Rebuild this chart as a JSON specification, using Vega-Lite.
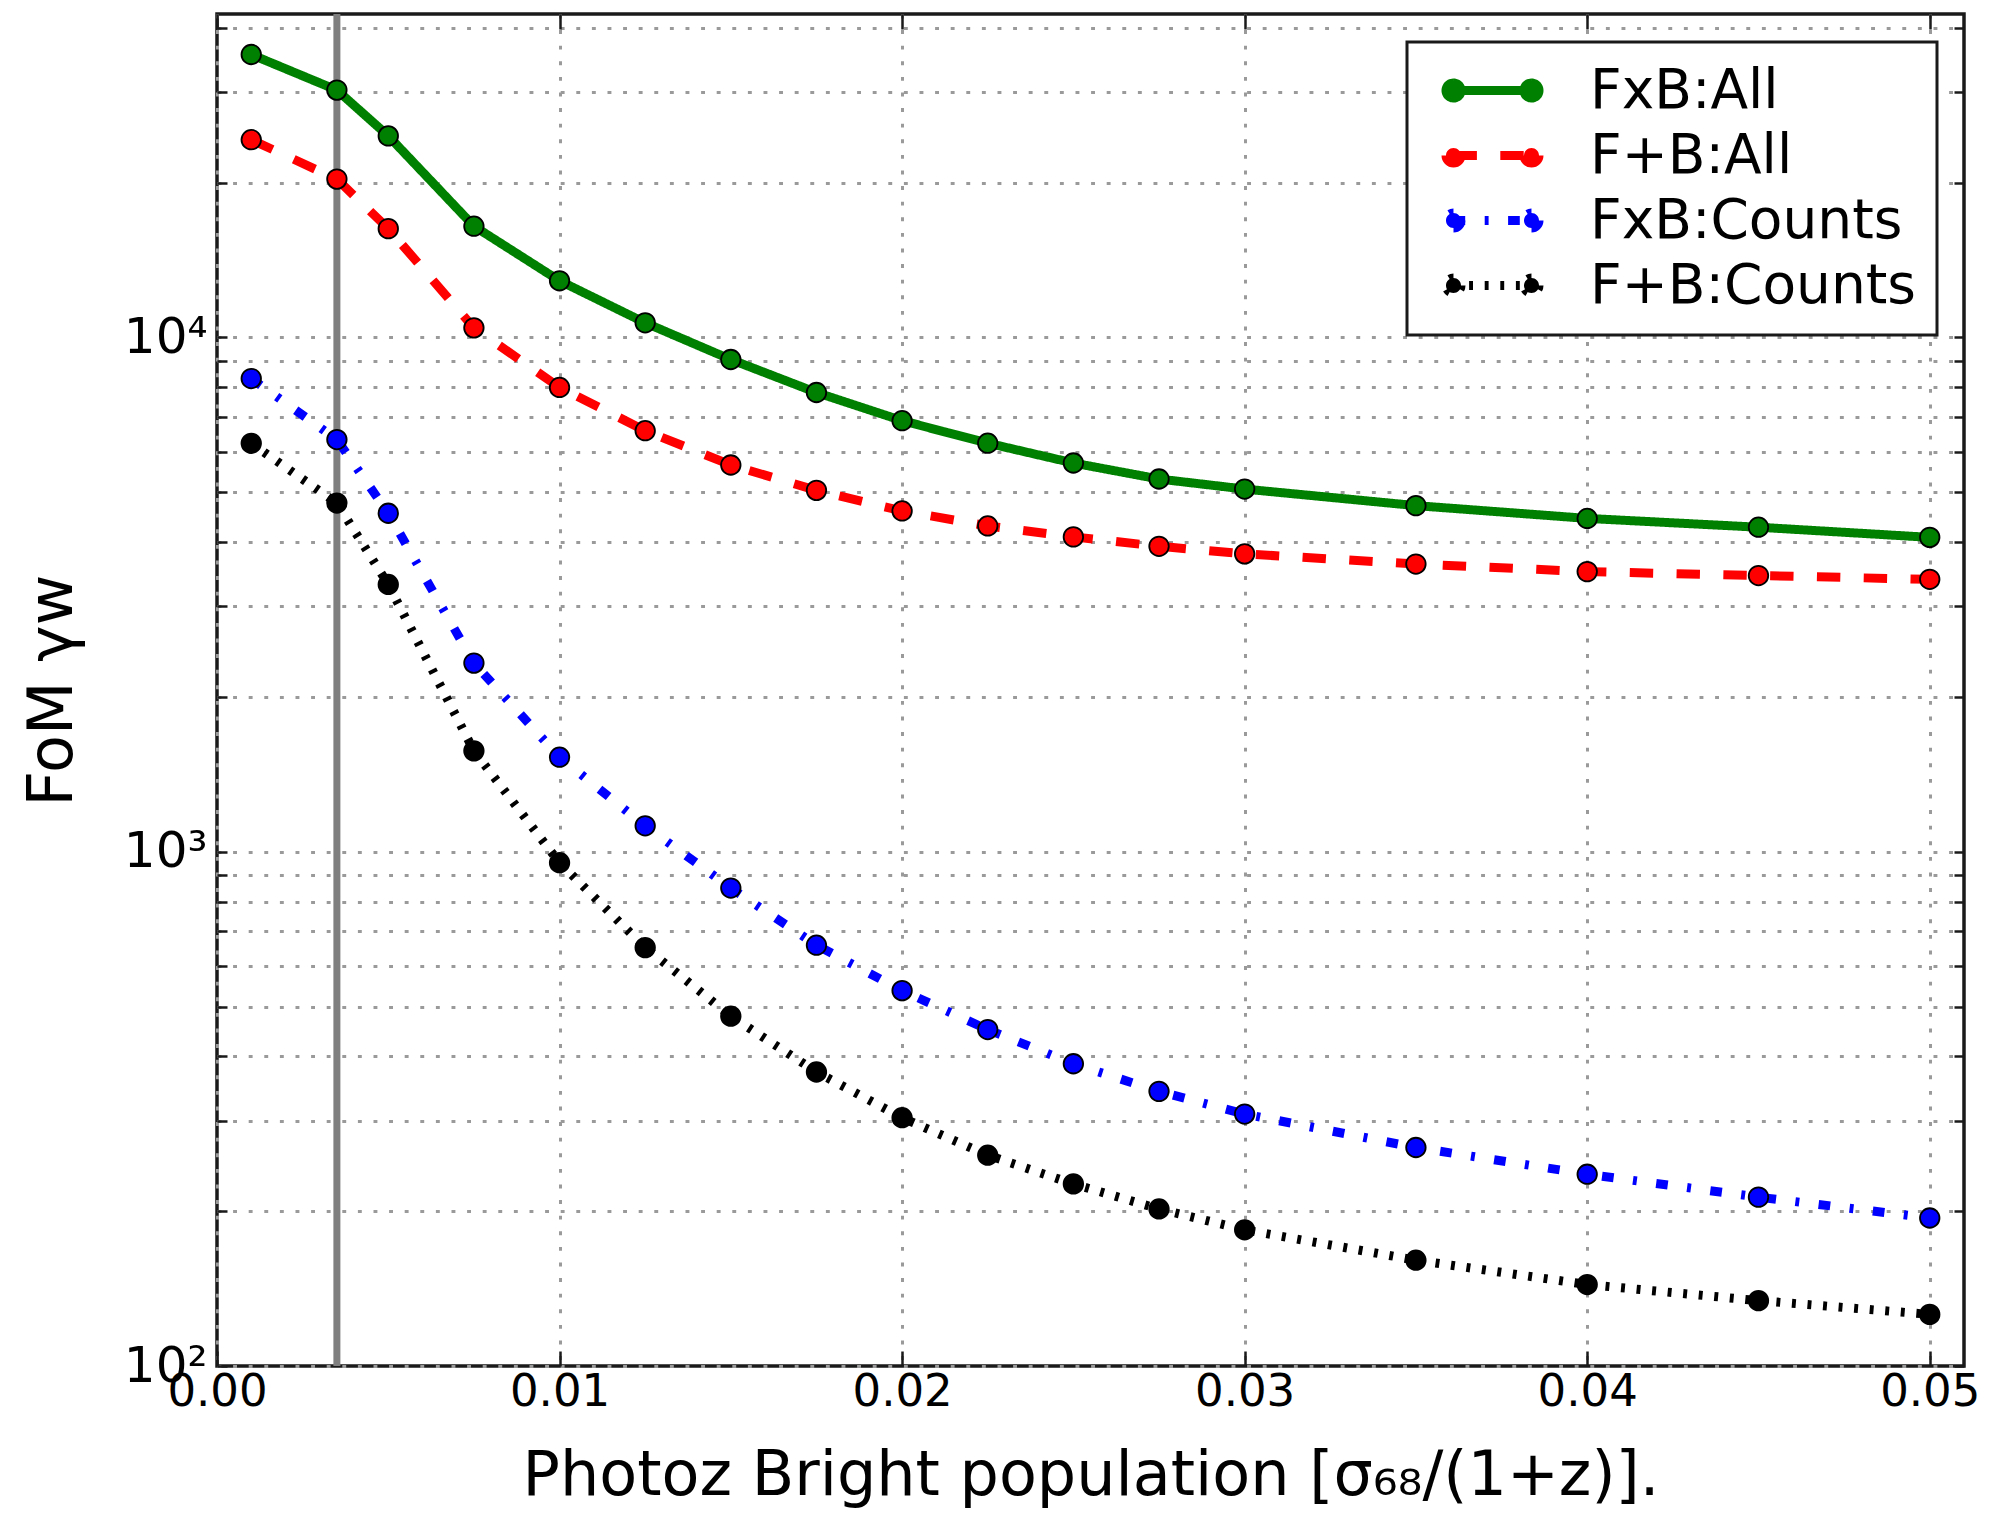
{
  "$schema": "https://vega.github.io/schema/vega-lite/v6.json",
  "autosize": {"type": "none"},
  "padding": {"left": 217, "top": 14, "right": 31, "bottom": 151},
  "width": 1747,
  "height": 1352,
  "background": "white",
  "config": {
    "font": "DejaVu Sans",
    "view": {"stroke": "#1a1a1a", "strokeWidth": 3.5},
    "legend": {
      "orient": "none",
      "legendX": 1190,
      "legendY": 28,
      "symbolType": "M-3.9,0L3.9,0M-3.15,0A0.75,0.75,0,1,1,-4.65,0A0.75,0.75,0,1,1,-3.15,0ZM4.65,0A0.75,0.75,0,1,1,3.15,0A0.75,0.75,0,1,1,4.65,0Z",
      "symbolSize": 400,
      "symbolStrokeWidth": 9,
      "symbolOffset": 37,
      "labelFontSize": 55,
      "labelFont": "DejaVu Sans",
      "labelColor": "#000",
      "labelOffset": 70,
      "labelLimit": 600,
      "rowPadding": 9,
      "padding": 21,
      "strokeColor": "#1a1a1a",
      "strokeWidth": 3,
      "fillColor": "white"
    }
  },
  "resolve": {"axis": {"x": "independent", "y": "independent"}},
  "datasets": {
    "fom": [
      {"series": "FxB:All", "x": 0.001, "y": 35500},
      {"series": "FxB:All", "x": 0.0035, "y": 30270},
      {"series": "FxB:All", "x": 0.005, "y": 24660},
      {"series": "FxB:All", "x": 0.0075, "y": 16460},
      {"series": "FxB:All", "x": 0.01, "y": 12890},
      {"series": "FxB:All", "x": 0.0125, "y": 10680},
      {"series": "FxB:All", "x": 0.015, "y": 9060},
      {"series": "FxB:All", "x": 0.0175, "y": 7816},
      {"series": "FxB:All", "x": 0.02, "y": 6890},
      {"series": "FxB:All", "x": 0.0225, "y": 6230},
      {"series": "FxB:All", "x": 0.025, "y": 5700},
      {"series": "FxB:All", "x": 0.0275, "y": 5306},
      {"series": "FxB:All", "x": 0.03, "y": 5072},
      {"series": "FxB:All", "x": 0.035, "y": 4710},
      {"series": "FxB:All", "x": 0.04, "y": 4448},
      {"series": "FxB:All", "x": 0.045, "y": 4276},
      {"series": "FxB:All", "x": 0.05, "y": 4086},
      {"series": "F+B:All", "x": 0.001, "y": 24240},
      {"series": "F+B:All", "x": 0.0035, "y": 20320},
      {"series": "F+B:All", "x": 0.005, "y": 16280},
      {"series": "F+B:All", "x": 0.0075, "y": 10440},
      {"series": "F+B:All", "x": 0.01, "y": 7995},
      {"series": "F+B:All", "x": 0.0125, "y": 6588},
      {"series": "F+B:All", "x": 0.015, "y": 5650},
      {"series": "F+B:All", "x": 0.0175, "y": 5043},
      {"series": "F+B:All", "x": 0.02, "y": 4600},
      {"series": "F+B:All", "x": 0.0225, "y": 4300},
      {"series": "F+B:All", "x": 0.025, "y": 4095},
      {"series": "F+B:All", "x": 0.0275, "y": 3926},
      {"series": "F+B:All", "x": 0.03, "y": 3795},
      {"series": "F+B:All", "x": 0.035, "y": 3626},
      {"series": "F+B:All", "x": 0.04, "y": 3505},
      {"series": "F+B:All", "x": 0.045, "y": 3444},
      {"series": "F+B:All", "x": 0.05, "y": 3386},
      {"series": "FxB:Counts", "x": 0.001, "y": 8320},
      {"series": "FxB:Counts", "x": 0.0035, "y": 6332},
      {"series": "FxB:Counts", "x": 0.005, "y": 4552},
      {"series": "FxB:Counts", "x": 0.0075, "y": 2327},
      {"series": "FxB:Counts", "x": 0.01, "y": 1527},
      {"series": "FxB:Counts", "x": 0.0125, "y": 1123},
      {"series": "FxB:Counts", "x": 0.015, "y": 850},
      {"series": "FxB:Counts", "x": 0.0175, "y": 658},
      {"series": "FxB:Counts", "x": 0.02, "y": 537},
      {"series": "FxB:Counts", "x": 0.0225, "y": 451},
      {"series": "FxB:Counts", "x": 0.025, "y": 387},
      {"series": "FxB:Counts", "x": 0.0275, "y": 342},
      {"series": "FxB:Counts", "x": 0.03, "y": 309},
      {"series": "FxB:Counts", "x": 0.035, "y": 266},
      {"series": "FxB:Counts", "x": 0.04, "y": 236},
      {"series": "FxB:Counts", "x": 0.045, "y": 213},
      {"series": "FxB:Counts", "x": 0.05, "y": 194},
      {"series": "F+B:Counts", "x": 0.001, "y": 6226},
      {"series": "F+B:Counts", "x": 0.0035, "y": 4764},
      {"series": "F+B:Counts", "x": 0.005, "y": 3310},
      {"series": "F+B:Counts", "x": 0.0075, "y": 1571},
      {"series": "F+B:Counts", "x": 0.01, "y": 952},
      {"series": "F+B:Counts", "x": 0.0125, "y": 651},
      {"series": "F+B:Counts", "x": 0.015, "y": 479},
      {"series": "F+B:Counts", "x": 0.0175, "y": 373},
      {"series": "F+B:Counts", "x": 0.02, "y": 304},
      {"series": "F+B:Counts", "x": 0.0225, "y": 257},
      {"series": "F+B:Counts", "x": 0.025, "y": 226},
      {"series": "F+B:Counts", "x": 0.0275, "y": 202},
      {"series": "F+B:Counts", "x": 0.03, "y": 184},
      {"series": "F+B:Counts", "x": 0.035, "y": 160.6},
      {"series": "F+B:Counts", "x": 0.04, "y": 144},
      {"series": "F+B:Counts", "x": 0.045, "y": 134},
      {"series": "F+B:Counts", "x": 0.05, "y": 126}
    ],
    "vline": [{"x": 0.0035}]
  },
  "layer": [
    {
      "data": {"name": "vline"},
      "mark": {"type": "rule", "color": "#7f7f7f", "strokeWidth": 7},
      "encoding": {
        "x": {
          "field": "x",
          "type": "quantitative",
          "scale": {"domain": [0, 0.051], "nice": false, "zero": false},
          "axis": null
        }
      }
    },
    {
      "data": {"name": "fom"},
      "mark": {"type": "line", "strokeWidth": 9},
      "encoding": {
        "x": {
          "field": "x",
          "type": "quantitative",
          "scale": {"domain": [0, 0.051], "nice": false, "zero": false},
          "axis": {
            "orient": "bottom",
            "values": [0, 0.01, 0.02, 0.03, 0.04, 0.05],
            "format": ".2f",
            "title": "Photoz Bright population [σ₆₈/(1+z)].",
            "domain": false,
            "grid": true,
            "gridColor": "#9a9a9a",
            "gridDash": [3.9, 11.7],
            "gridWidth": 3,
            "ticks": true,
            "tickSize": -15,
            "tickColor": "#1a1a1a",
            "tickWidth": 2.5,
            "labelFontSize": 45,
            "labelColor": "#000",
            "labelPadding": 18,
            "labelFlush": false,
            "titleFontSize": 62,
            "titleFontWeight": "normal",
            "titleColor": "#000",
            "titlePadding": 31
          }
        },
        "y": {
          "field": "y",
          "type": "quantitative",
          "scale": {"type": "log", "domain": [100, 42560], "nice": false},
          "axis": {
            "orient": "left",
            "values": [100, 200, 300, 400, 500, 600, 700, 800, 900, 1000, 2000, 3000, 4000, 5000, 6000, 7000, 8000, 9000, 10000, 20000, 30000, 40000],
            "labelExpr": "datum.value == 100 ? '10²' : datum.value == 1000 ? '10³' : datum.value == 10000 ? '10⁴' : ''",
            "title": "FoM γw",
            "domain": false,
            "grid": true,
            "gridColor": "#9a9a9a",
            "gridDash": [3.9, 11.7],
            "gridWidth": 3,
            "tickSize": -10,
            "tickColor": "#1a1a1a",
            "tickWidth": 2.5,
            "labelFontSize": 50,
            "labelColor": "#000",
            "labelPadding": 20,
            "labelFlush": false,
            "labelOverlap": false,
            "titleFontSize": 62,
            "titleFontWeight": "normal",
            "titleColor": "#000",
            "titlePadding": 39
          }
        },
        "order": {"field": "x", "type": "quantitative"},
        "stroke": {
          "field": "series",
          "type": "nominal",
          "scale": {"domain": ["FxB:All", "F+B:All", "FxB:Counts", "F+B:Counts"], "range": ["#008000", "#ff0000", "#0000ff", "#000000"]},
          "legend": {"title": null}
        },
        "strokeDash": {
          "field": "series",
          "type": "nominal",
          "scale": {"domain": ["FxB:All", "F+B:All", "FxB:Counts", "F+B:Counts"], "range": [[1, 0], [23.4, 23.4], [11.7, 19.5, 3.9, 19.5], [3.9, 11.7]]},
          "legend": {"title": null}
        }
      }
    },
    {
      "data": {"name": "fom"},
      "mark": {"type": "point", "shape": "circle", "filled": true, "size": 380, "stroke": "#000", "strokeWidth": 1.8, "opacity": 1},
      "encoding": {
        "x": {
          "field": "x",
          "type": "quantitative",
          "axis": {
            "orient": "top",
            "values": [0, 0.01, 0.02, 0.03, 0.04, 0.05],
            "labels": false,
            "title": null,
            "domain": false,
            "grid": false,
            "ticks": true,
            "tickSize": -15,
            "tickColor": "#1a1a1a",
            "tickWidth": 2.5
          }
        },
        "y": {
          "field": "y",
          "type": "quantitative",
          "axis": {
            "orient": "right",
            "values": [100, 200, 300, 400, 500, 600, 700, 800, 900, 1000, 2000, 3000, 4000, 5000, 6000, 7000, 8000, 9000, 10000, 20000, 30000, 40000],
            "labels": false,
            "title": null,
            "domain": false,
            "grid": false,
            "ticks": true,
            "tickSize": -10,
            "tickColor": "#1a1a1a",
            "tickWidth": 2.5
          }
        },
        "fill": {
          "field": "series",
          "type": "nominal",
          "scale": {"domain": ["FxB:All", "F+B:All", "FxB:Counts", "F+B:Counts"], "range": ["#008000", "#ff0000", "#0000ff", "#000000"]},
          "legend": {"title": null}
        }
      }
    }
  ]
}
